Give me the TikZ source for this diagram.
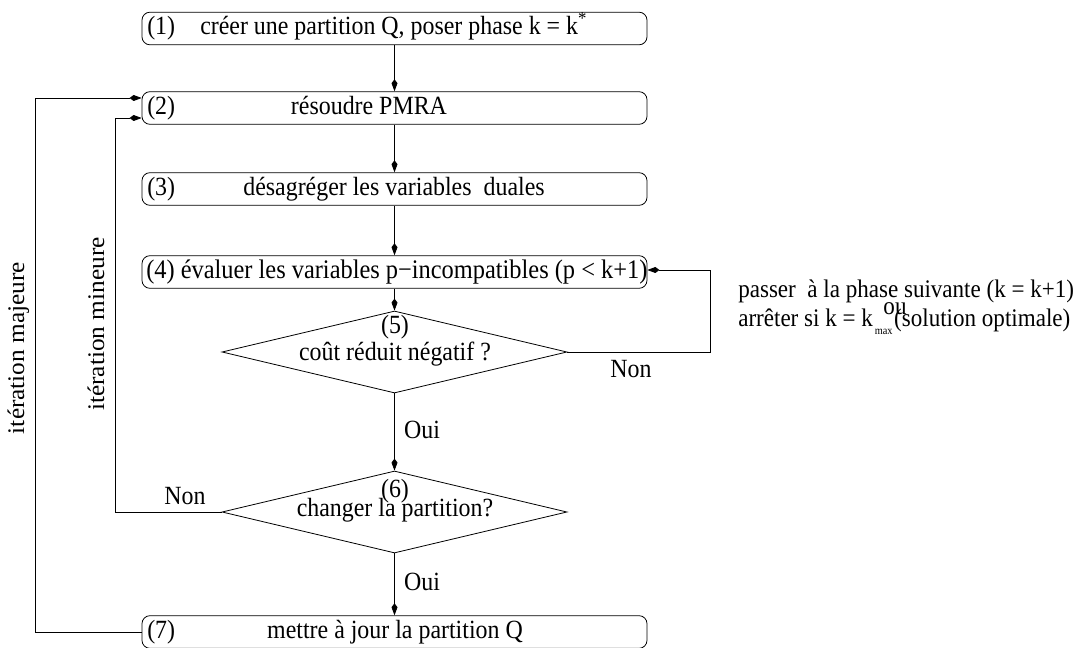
\documentclass[tikz,border=0pt]{standalone}
\usepackage{fontspec}
\setmainfont{Liberation Serif}[FakeStretch=0.91]
\newfontfamily\sidefont{Liberation Serif}[FakeStretch=1.06]
\usetikzlibrary{arrows.meta,shapes.geometric}
\begin{document}
\begin{tikzpicture}[x=0.75pt,y=-0.75pt,
  every node/.style={font=\fontsize{19.7}{23}\selectfont, inner sep=0pt, text height=13.5pt, text depth=4pt},
  sidelabel/.style={rotate=90, font=\sidefont\fontsize{17.9}{21}\selectfont, text height=12.5pt, text depth=3.5pt},
  notelabel/.style={font=\fontsize{19}{22}\selectfont},
  stepbox/.style={draw, rounded corners=6pt, minimum width=378.75pt, minimum height=24.5pt, line width=0.6pt, text height=, text depth=},
  testbox/.style={draw, diamond, minimum width=258.75pt, minimum height=61.5pt, line width=0.6pt, text height=, text depth=},
  arr/.style={line width=0.6pt, -{Kite[length=9pt,width=4.5pt,inset=3pt]}},
  lin/.style={line width=0.6pt}]
\useasboundingbox (0,0) rectangle (1080,648);

% processing steps
\node[stepbox] (b1) at (394.5,28.5) {};
\node[stepbox] (b2) at (394.5,108) {};
\node[stepbox] (b3) at (394.5,189) {};
\node[stepbox] (b4) at (394.5,272) {};
\node[stepbox] (b7) at (394.5,632) {};

% decisions
\node[testbox] (d5) at (394.5,352) {};
\node[testbox] (d6) at (394.5,512) {};

% step texts
\node[anchor=west] (n1) at (147,28.5) {(1)};
\node[anchor=west] (t1) at (200,28.5) {créer une partition Q, poser phase k = k\textsuperscript{*}};
\node[anchor=west] (n2) at (147,108) {(2)};
\node (t2) at (369,108) {résoudre PMRA};
\node[anchor=west] (n3) at (147,189) {(3)};
\node (t3) at (394,189) {désagréger les variables\ \ duales};
\node[anchor=west, font=\fontsize{20.1}{23}\selectfont] (t4) at (146,272) {(4) évaluer les variables p−incompatibles (p < k+1)};
\node[anchor=west] (n7) at (147,632) {(7)};
\node (t7) at (395,632) {mettre à jour la partition Q};

\node (n5) at (395,327) {(5)};
\node (t5) at (395,354) {coût réduit négatif ?};
\node (n6) at (395,491) {(6)};
\node (t6) at (395,510) {changer la partition?};

% main flow
\draw[arr] (b1.south) -- (b2.north);
\draw[arr] (b2.south) -- (b3.north);
\draw[arr] (b3.south) -- (b4.north);
\draw[arr] (b4.south) -- (d5.north);
\draw[arr] (d5.south) -- node[anchor=west, xshift=7pt] (oui1) {Oui} (d6.north);
\draw[arr] (d6.south) -- node[anchor=west, xshift=7pt] (oui2) {Oui} (b7.north);

% phase loop
\coordinate (c5) at (710,270);
\draw[arr] (d5.east) -| (c5) -- (c5 -| b4.east);
\node (non5) at (631,371) {Non};
\node[notelabel, anchor=west] (p1) at (738,291) {passer\ \ à la phase suivante (k = k+1)};
\node[notelabel] (p2) at (895,308) {ou};
\node[notelabel, anchor=west] (p3) at (738,320) {arrêter si k = k\raisebox{-6pt}{\makebox[16pt][l]{\hspace{1.5pt}\fontsize{8.5}{8}\selectfont max}}(solution optimale)};

% minor iteration
\coordinate (m) at (115,118);
\draw[arr] (d6.west) -| (m) -- (m -| b2.west);
\node (non6) at (185,498) {Non};
\node[sidelabel] (mineure) at (98,324) {itération mineure};

% major iteration
\coordinate (M) at (35,98);
\draw[arr] (b7.west) -| (M) -- (M -| b2.west);
\node[sidelabel] (majeure) at (18,348) {itération majeure};
\end{tikzpicture}
\end{document}
